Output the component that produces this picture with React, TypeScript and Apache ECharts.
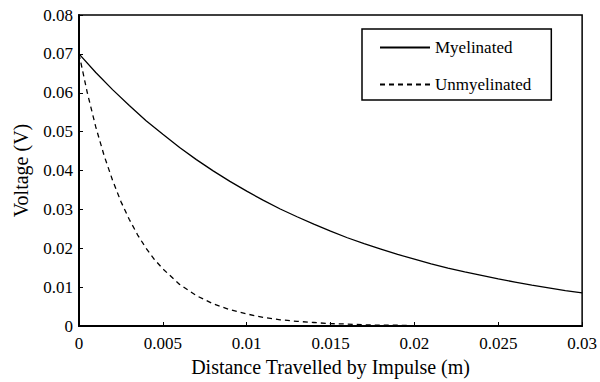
import React, { useEffect, useRef } from "react";
import * as echarts from "echarts";

const xMyelinated = [0, 0.001, 0.002, 0.003, 0.004, 0.005, 0.006, 0.007, 0.008, 0.009, 0.01, 0.011, 0.012, 0.013, 0.014, 0.015, 0.016, 0.017, 0.018, 0.019, 0.02, 0.021, 0.022, 0.023, 0.024, 0.025, 0.026, 0.027, 0.028, 0.029, 0.03];
const yMyelinated = [0.07, 0.0652, 0.0608, 0.0567, 0.0528, 0.0493, 0.0459, 0.0428, 0.0399, 0.0372, 0.0347, 0.0323, 0.0301, 0.0281, 0.0262, 0.0244, 0.0227, 0.0212, 0.0198, 0.0184, 0.0172, 0.016, 0.0149, 0.0139, 0.013, 0.0121, 0.0113, 0.0105, 0.0098, 0.0091, 0.0085];

const xUnmyelinated = [0, 0.0005, 0.001, 0.0015, 0.002, 0.0025, 0.003, 0.0035, 0.004, 0.0045, 0.005, 0.006, 0.007, 0.008, 0.009, 0.01, 0.011, 0.012, 0.013, 0.014, 0.015, 0.016, 0.017, 0.018, 0.019, 0.02];
const yUnmyelinated = [0.07, 0.0599, 0.0512, 0.0438, 0.0375, 0.032, 0.0274, 0.0234, 0.02, 0.0171, 0.0147, 0.0107, 0.0078, 0.0057, 0.0042, 0.0031, 0.0022, 0.0016, 0.0012, 0.0009, 0.0006, 0.0005, 0.0003, 0.0002, 0.0002, 0.0001];

const seriesNames = ["Myelinated", "Unmyelinated"];
const xTitle = "Distance Travelled by Impulse (m)";
const yTitle = "Voltage (V)";

const FONT = "Liberation Serif";

export default function App() {
  const ref = useRef<HTMLDivElement>(null);
  useEffect(() => {
    if (!ref.current) return;
    const chart = echarts.init(ref.current, null, { renderer: "svg" });
    const pair = (xs: number[], ys: number[]) => xs.map((x, i) => [x, ys[i]]);
    chart.setOption({
      animation: false,
      backgroundColor: "#fff",
      textStyle: { fontFamily: FONT, color: "#000" },
      grid: {
        left: 79,
        right: 15,
        top: 15,
        bottom: 54,
        show: true,
        borderColor: "#000",
        borderWidth: 1.5,
      },
      legend: {
        left: 362,
        top: 29,
        orient: "vertical",
        padding: [10, 20, 7, 17],
        itemGap: 20,
        itemWidth: 50,
        itemHeight: 14,
        borderColor: "#000",
        borderWidth: 1.5,
        borderRadius: 0,
        backgroundColor: "#fff",
        itemStyle: { opacity: 0 },
        textStyle: { fontFamily: FONT, fontSize: 17, color: "#000" },
        data: seriesNames,
      },
      xAxis: {
        type: "value",
        min: 0,
        max: 0.03,
        interval: 0.005,
        name: xTitle,
        nameLocation: "middle",
        nameGap: 31,
        nameTextStyle: { fontFamily: FONT, fontSize: 20, color: "#000" },
        axisLine: { show: true, onZero: false, lineStyle: { color: "#000", width: 2 } },
        axisTick: { show: true, inside: true, length: 4, lineStyle: { color: "#000", width: 1 } },
        axisLabel: { fontFamily: FONT, fontSize: 17, color: "#000", margin: 9 },
        splitLine: { show: false },
      },
      yAxis: {
        type: "value",
        min: 0,
        max: 0.08,
        interval: 0.01,
        name: yTitle,
        nameLocation: "middle",
        nameGap: 48,
        nameRotate: 90,
        nameTextStyle: { fontFamily: FONT, fontSize: 20, color: "#000" },
        axisLine: { show: true, onZero: false, lineStyle: { color: "#000", width: 2 } },
        axisTick: { show: true, inside: true, length: 4, lineStyle: { color: "#000", width: 1 } },
        axisLabel: { fontFamily: FONT, fontSize: 17, color: "#000", margin: 6 },
        splitLine: { show: false },
      },
      series: [
        {
          name: seriesNames[0],
          type: "line",
          showSymbol: false,
          symbol: "none",
          smooth: false,
          data: pair(xMyelinated, yMyelinated),
          lineStyle: { color: "#000", width: 1.3, type: "solid" },
          itemStyle: { color: "#000" },
        },
        {
          name: seriesNames[1],
          type: "line",
          showSymbol: false,
          symbol: "none",
          smooth: false,
          data: pair(xUnmyelinated, yUnmyelinated),
          lineStyle: { color: "#000", width: 1.3, type: [5, 4] },
          itemStyle: { color: "#000" },
        },
      ],
    });
    return () => chart.dispose();
  }, []);
  return <div ref={ref} style={{ width: 600, height: 382, position: "absolute", left: 0, top: 0 }} />;
}
